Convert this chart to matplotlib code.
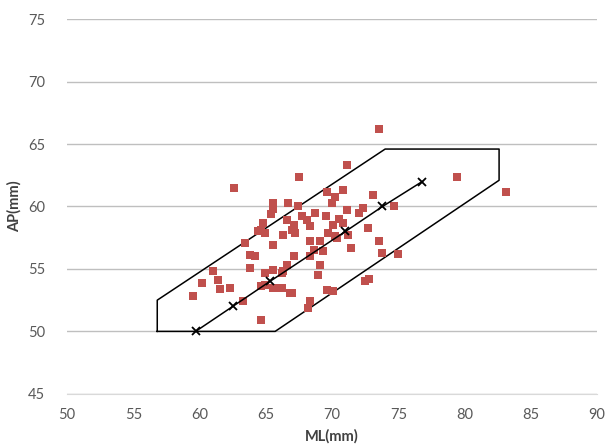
import numpy as np
import matplotlib
matplotlib.use("Agg")
import matplotlib.pyplot as plt

plt.rcParams['font.family'] = ['Lato', 'DejaVu Sans']

# measured points (ML, AP)
ml = [73.5, 62.6, 71.1, 67.5, 79.4, 83.1, 74.7, 73.1, 69.6, 70.8,
      70.2, 70.0, 66.7, 67.4, 72.3, 71.1, 72.0, 70.5, 70.8, 72.7,
      70.4, 71.2, 73.5, 71.4, 73.8, 75.0, 72.5, 72.8, 70.1, 68.3,
      69.1, 68.6, 69.3, 68.3, 67.1, 66.6, 66.2, 69.1, 68.9, 66.2,
      66.8, 68.3, 68.2, 69.7, 70.2, 63.4, 65.5, 63.8, 64.2, 63.8,
      64.9, 65.5, 66.3, 64.6, 64.9, 65.5, 65.9, 67.0, 63.3, 64.6,
      61.0, 61.4, 60.2, 61.5, 62.3, 59.5, 64.9, 64.4, 66.3, 65.5,
      65.5, 65.4, 68.7, 69.5, 67.7, 66.6, 67.1, 68.1, 68.3, 64.8,
      64.6, 67.0, 67.2, 70.1, 69.6]
ap = [66.2, 61.5, 63.3, 62.4, 62.4, 61.2, 60.0, 60.9, 61.2, 61.3,
      60.8, 60.3, 60.3, 60.0, 59.9, 59.7, 59.5, 59.0, 58.7, 58.3,
      57.5, 57.7, 57.2, 56.7, 56.3, 56.2, 54.0, 54.2, 53.2, 57.2,
      57.2, 56.5, 56.4, 56.0, 56.0, 55.3, 54.7, 55.3, 54.5, 53.5,
      53.1, 52.4, 51.9, 57.9, 57.6, 57.1, 56.9, 56.1, 56.0, 55.1,
      54.7, 54.9, 54.8, 53.6, 53.7, 53.5, 53.5, 53.1, 52.4, 50.9,
      54.8, 54.1, 53.9, 53.4, 53.5, 52.8, 57.9, 58.0, 57.7, 60.3,
      59.8, 59.4, 59.5, 59.2, 59.2, 58.9, 58.5, 58.9, 58.4, 58.7,
      58.1, 58.1, 57.9, 58.5, 53.3]

# zone outline
zone_x = [56.8, 56.8, 74.0, 82.6, 82.6, 65.7, 56.8]
zone_y = [50.0, 52.5, 64.6, 64.6, 62.1, 50.0, 50.0]

# centre line with markers
mid_x = [59.7, 62.5, 65.3, 71.0, 73.8, 76.8]
mid_y = [50.0, 52.0, 54.0, 58.0, 60.0, 62.0]

fig = plt.figure(figsize=(6.05, 4.46), dpi=100)
ax = fig.add_axes([0.111, 0.117, 0.876, 0.84])

ax.scatter(ml, ap, marker='s', s=40, color='#C0504D', zorder=3, linewidths=0)
ax.plot(zone_x, zone_y, color='black', lw=1.1, zorder=2)
ax.plot(mid_x, mid_y, color='black', lw=1.1, marker='x', ms=6, mew=1.3, zorder=4)

ax.set_xlim(50, 90)
ax.set_ylim(45, 75)
ax.set_xticks(np.arange(50, 91, 5))
ax.set_yticks(np.arange(45, 76, 5))
ax.yaxis.grid(True, color='#BFBFBF', lw=1)
ax.set_axisbelow(True)
for s in ['top', 'right', 'left']:
    ax.spines[s].set_visible(False)
ax.spines['bottom'].set_color('#D9D9D9')
ax.tick_params(length=0, labelsize=10.5, colors='#595959')
ax.tick_params(axis='x', pad=10)
ax.tick_params(axis='y', pad=16)
ax.set_xlabel('ML(mm)', fontsize=10.5, fontweight='bold', color='#404040', labelpad=5)
ax.set_ylabel('AP(mm)', fontsize=10.5, fontweight='bold', color='#404040', labelpad=4)

plt.savefig('out.png', dpi=100)
